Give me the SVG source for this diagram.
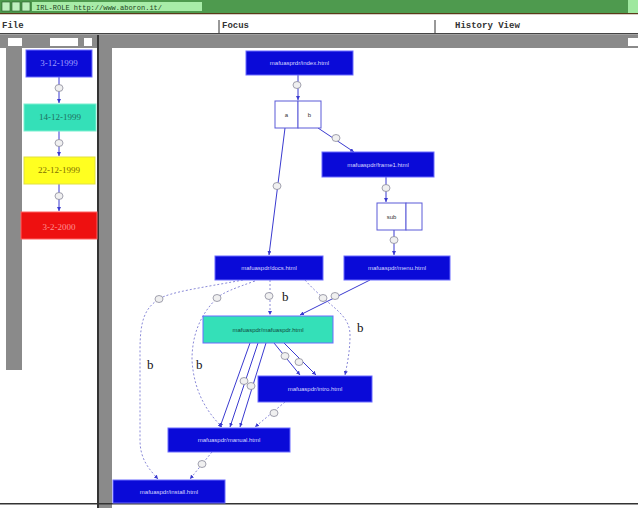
<svg xmlns="http://www.w3.org/2000/svg" width="638" height="508" viewBox="0 0 638 508">
  <style>
    .node rect { stroke: #6a6aff; stroke-width: 1; }
    .blue { fill: #0a0ad8; }
    .lbl { font-family: "Liberation Sans", Arial, sans-serif; font-size: 6px; fill: #d8d8ff; text-anchor: middle; }
    .date { font-family: "Liberation Serif", serif; font-size: 9px; text-anchor: middle; }
    .mono { font-family: "Liberation Mono", monospace; font-size: 9px; font-weight: bold; fill: #333; }
    .edge { fill: none; stroke: #3a3ad0; stroke-width: 1; }
    .dash { fill: none; stroke: #8a8ad8; stroke-width: 1; stroke-dasharray: 2 2; }
    .knob { fill: #f0f0f0; stroke: #8a8a9a; stroke-width: 0.8; }
    .b { font-family: "Liberation Serif", serif; font-size: 13px; fill: #111; }
    .cell { fill: #ffffff; stroke: #5a5ad8; stroke-width: 1; }
    .celltxt { font-family: "Liberation Sans", sans-serif; font-size: 6px; fill: #333; text-anchor: middle; }
  </style>
  <defs>
    <marker id="arr" viewBox="0 0 6 6" refX="6" refY="3" markerWidth="4" markerHeight="4" orient="auto">
      <path d="M0,0 L6,3 L0,6 z" fill="#3a3ad0"/>
    </marker>
  </defs>

  <!-- window chrome -->
  <rect x="0" y="0" width="638" height="508" fill="#ffffff"/>
  <rect x="0" y="0" width="638" height="13" fill="#4e9a4e"/>
  <rect x="628" y="0" width="10" height="13" fill="#9fe89f"/>
  <rect x="2" y="2" width="8" height="9" fill="#bff0bf" stroke="#2a5a2a" stroke-width="0.6"/>
  <rect x="12" y="2" width="8" height="9" fill="#bff0bf" stroke="#2a5a2a" stroke-width="0.6"/>
  <rect x="22" y="2" width="8" height="9" fill="#bff0bf" stroke="#2a5a2a" stroke-width="0.6"/>
  <rect x="32" y="2" width="170" height="9" fill="#a8eca8"/>
  <text x="36" y="9.5" font-family="Liberation Mono, monospace" font-size="7" fill="#224422">IRL-ROLE http://www.aboron.it/</text>
  <rect x="0" y="13" width="638" height="1.5" fill="#5a3a1a"/>
  <rect x="0" y="14.5" width="638" height="19" fill="#ffffff"/>
  <line x1="219" y1="20" x2="219" y2="33" stroke="#333"/>
  <line x1="435" y1="20" x2="435" y2="33" stroke="#333"/>
  <text x="2" y="28" class="mono">File</text>
  <text x="222" y="28" class="mono">Focus</text>
  <text x="455" y="28" class="mono">History View</text>
  <rect x="0" y="33" width="638" height="1.5" fill="#444"/>
  <rect x="0" y="35" width="638" height="13" fill="#8a8a8a"/>
  <rect x="8" y="38" width="14" height="8" fill="#ffffff"/>
  <rect x="50" y="38" width="28" height="8" fill="#ffffff"/>
  <rect x="84" y="38" width="8" height="8" fill="#ffffff"/>
  <rect x="628" y="38" width="10" height="8" fill="#ffffff"/>

  <!-- history panel -->
  <rect x="0" y="48" width="6" height="460" fill="#ffffff"/>
  <rect x="6" y="48" width="16" height="322" fill="#8a8a8a"/>
  <rect x="97" y="35" width="2" height="473" fill="#333"/>
  <rect x="99" y="48" width="13" height="460" fill="#8a8a8a"/>
  <rect x="112" y="48" width="526" height="460" fill="#ffffff"/>
  <rect x="0" y="503" width="638" height="1.5" fill="#333"/>

  <g id="history-links">
    <line class="edge" x1="59" y1="77" x2="59" y2="103" marker-end="url(#arr)"/>
    <line class="edge" x1="59" y1="131" x2="59" y2="156" marker-end="url(#arr)"/>
    <line class="edge" x1="59" y1="184" x2="59" y2="211" marker-end="url(#arr)"/>
    <ellipse class="knob" cx="59" cy="88" rx="4" ry="3.5"/>
    <ellipse class="knob" cx="59" cy="143" rx="4" ry="3.5"/>
    <ellipse class="knob" cx="59" cy="196" rx="4" ry="3.5"/>
  </g>
  <g id="h1"><rect x="26" y="50" width="66" height="27" fill="#0a0ad8" stroke="#6a6aff"/><text x="59" y="66" class="date" fill="#9f9fff">3-12-1999</text></g>
  <g id="h2"><rect x="24" y="104" width="72" height="27" fill="#34e0b8" stroke="#7af0d0"/><text x="60" y="120" class="date" fill="#207060">14-12-1999</text></g>
  <g id="h3"><rect x="24" y="157" width="71" height="27" fill="#ffff20" stroke="#e0e040"/><text x="59" y="173" class="date" fill="#807000">22-12-1999</text></g>
  <g id="h4"><rect x="21" y="212" width="76" height="27" fill="#ee1010" stroke="#ff6060"/><text x="59" y="230" class="date" font-size="11" fill="#ff9090">3-2-2000</text></g>

  <!-- connectors -->
  <g id="connectors">
    <line class="edge" x1="298" y1="75" x2="298" y2="100" marker-end="url(#arr)"/>
    <line class="edge" x1="318" y1="128" x2="354" y2="152" marker-end="url(#arr)"/>
    <line class="edge" x1="285" y1="128" x2="269" y2="255" marker-end="url(#arr)"/>
    <line class="edge" x1="386" y1="177" x2="386" y2="202" marker-end="url(#arr)"/>
    <line class="edge" x1="394" y1="230" x2="394" y2="255" marker-end="url(#arr)"/>
    <line class="dash" x1="270" y1="280" x2="270" y2="315" marker-end="url(#arr)"/>
    <line class="edge" x1="370" y1="280" x2="300" y2="315" marker-end="url(#arr)"/>
    <path class="dash" d="M243,280 C200,288 170,292 159,299 C145,308 140,320 140,350 L140,440 C140,460 150,470 158,479" marker-end="url(#arr)"/>
    <path class="dash" d="M255,281 C235,288 222,293 217,298 C200,315 192,335 192,360 C194,395 210,415 222,427" marker-end="url(#arr)"/>
    <path class="dash" d="M305,280 C312,288 318,293 323,298 C340,312 350,320 350,335 C350,352 347,365 345,375" marker-end="url(#arr)"/>
    <line class="edge" x1="250" y1="343" x2="220" y2="427" marker-end="url(#arr)"/>
    <line class="edge" x1="258" y1="343" x2="230" y2="427" marker-end="url(#arr)"/>
    <line class="edge" x1="266" y1="343" x2="240" y2="427" marker-end="url(#arr)"/>
    <line class="edge" x1="274" y1="343" x2="300" y2="375" marker-end="url(#arr)"/>
    <line class="edge" x1="284" y1="343" x2="316" y2="375" marker-end="url(#arr)"/>
    <line class="dash" x1="285" y1="402" x2="255" y2="427" marker-end="url(#arr)"/>
    <line class="dash" x1="212" y1="452" x2="190" y2="479" marker-end="url(#arr)"/>
    <ellipse class="knob" cx="297" cy="85" rx="4" ry="3.5"/>
    <ellipse class="knob" cx="336" cy="138" rx="4" ry="3.5"/>
    <ellipse class="knob" cx="277" cy="186" rx="4" ry="3.5"/>
    <ellipse class="knob" cx="386" cy="188" rx="4" ry="3.5"/>
    <ellipse class="knob" cx="394" cy="240" rx="4" ry="3.5"/>
    <ellipse class="knob" cx="269" cy="296" rx="4" ry="3.5"/>
    <ellipse class="knob" cx="323" cy="298" rx="4" ry="3.5"/>
    <ellipse class="knob" cx="335" cy="296" rx="4" ry="3.5"/>
    <ellipse class="knob" cx="159" cy="299" rx="4" ry="3.5"/>
    <ellipse class="knob" cx="217" cy="298" rx="4" ry="3.5"/>
    <ellipse class="knob" cx="285" cy="356" rx="4" ry="3.5"/>
    <ellipse class="knob" cx="299" cy="362" rx="4" ry="3.5"/>
    <ellipse class="knob" cx="244" cy="381" rx="4" ry="3.5"/>
    <ellipse class="knob" cx="251" cy="386" rx="4" ry="3.5"/>
    <ellipse class="knob" cx="274" cy="413" rx="4" ry="3.5"/>
    <ellipse class="knob" cx="202" cy="464" rx="4" ry="3.5"/>
    <text x="282" y="301" class="b">b</text>
    <text x="357" y="332" class="b">b</text>
    <text x="147" y="369" class="b">b</text>
    <text x="196" y="369" class="b">b</text>
  </g>

  <!-- pages -->
  <g id="n-index" class="node"><rect class="blue" x="246" y="51" width="107" height="24"/><text x="299.5" y="65" class="lbl">mafuasprdr/index.html</text></g>
  <g id="n-frame1">
    <rect class="cell" x="275" y="101" width="23" height="27"/><rect class="cell" x="298" y="101" width="23" height="27"/>
    <text x="286.5" y="117" class="celltxt">a</text><text x="309.5" y="117" class="celltxt">b</text>
  </g>
  <g id="n-frame" class="node"><rect class="blue" x="322" y="152" width="112" height="25"/><text x="378" y="166.5" class="lbl">mafuaspdr/frame1.html</text></g>
  <g id="n-frame2">
    <rect class="cell" x="377" y="203" width="29" height="27"/><rect class="cell" x="406" y="203" width="16" height="27"/>
    <text x="391.5" y="219" class="celltxt">sub</text>
  </g>
  <g id="n-docs" class="node"><rect class="blue" x="215" y="256" width="108" height="24"/><text x="269" y="270" class="lbl">mafuaspdr/docs.html</text></g>
  <g id="n-menu" class="node"><rect class="blue" x="344" y="256" width="106" height="24"/><text x="397" y="270" class="lbl">mafuaspdr/menu.html</text></g>
  <g id="n-overview" class="node"><rect x="203" y="316" width="130" height="27" fill="#34e0b8" stroke="#7af0d0"/><text x="268" y="331.5" class="lbl" style="fill:#104a3a">mafuaspdr/mafuaspdr.html</text></g>
  <g id="n-intro" class="node"><rect class="blue" x="258" y="376" width="114" height="26"/><text x="315" y="391" class="lbl">mafuaspdr/intro.html</text></g>
  <g id="n-manual" class="node"><rect class="blue" x="168" y="428" width="122" height="24"/><text x="229" y="442" class="lbl">mafuaspdr/manual.html</text></g>
  <g id="n-install" class="node"><rect class="blue" x="113" y="480" width="112" height="23"/><text x="169" y="494" class="lbl">mafuaspdr/install.html</text></g>
</svg>
